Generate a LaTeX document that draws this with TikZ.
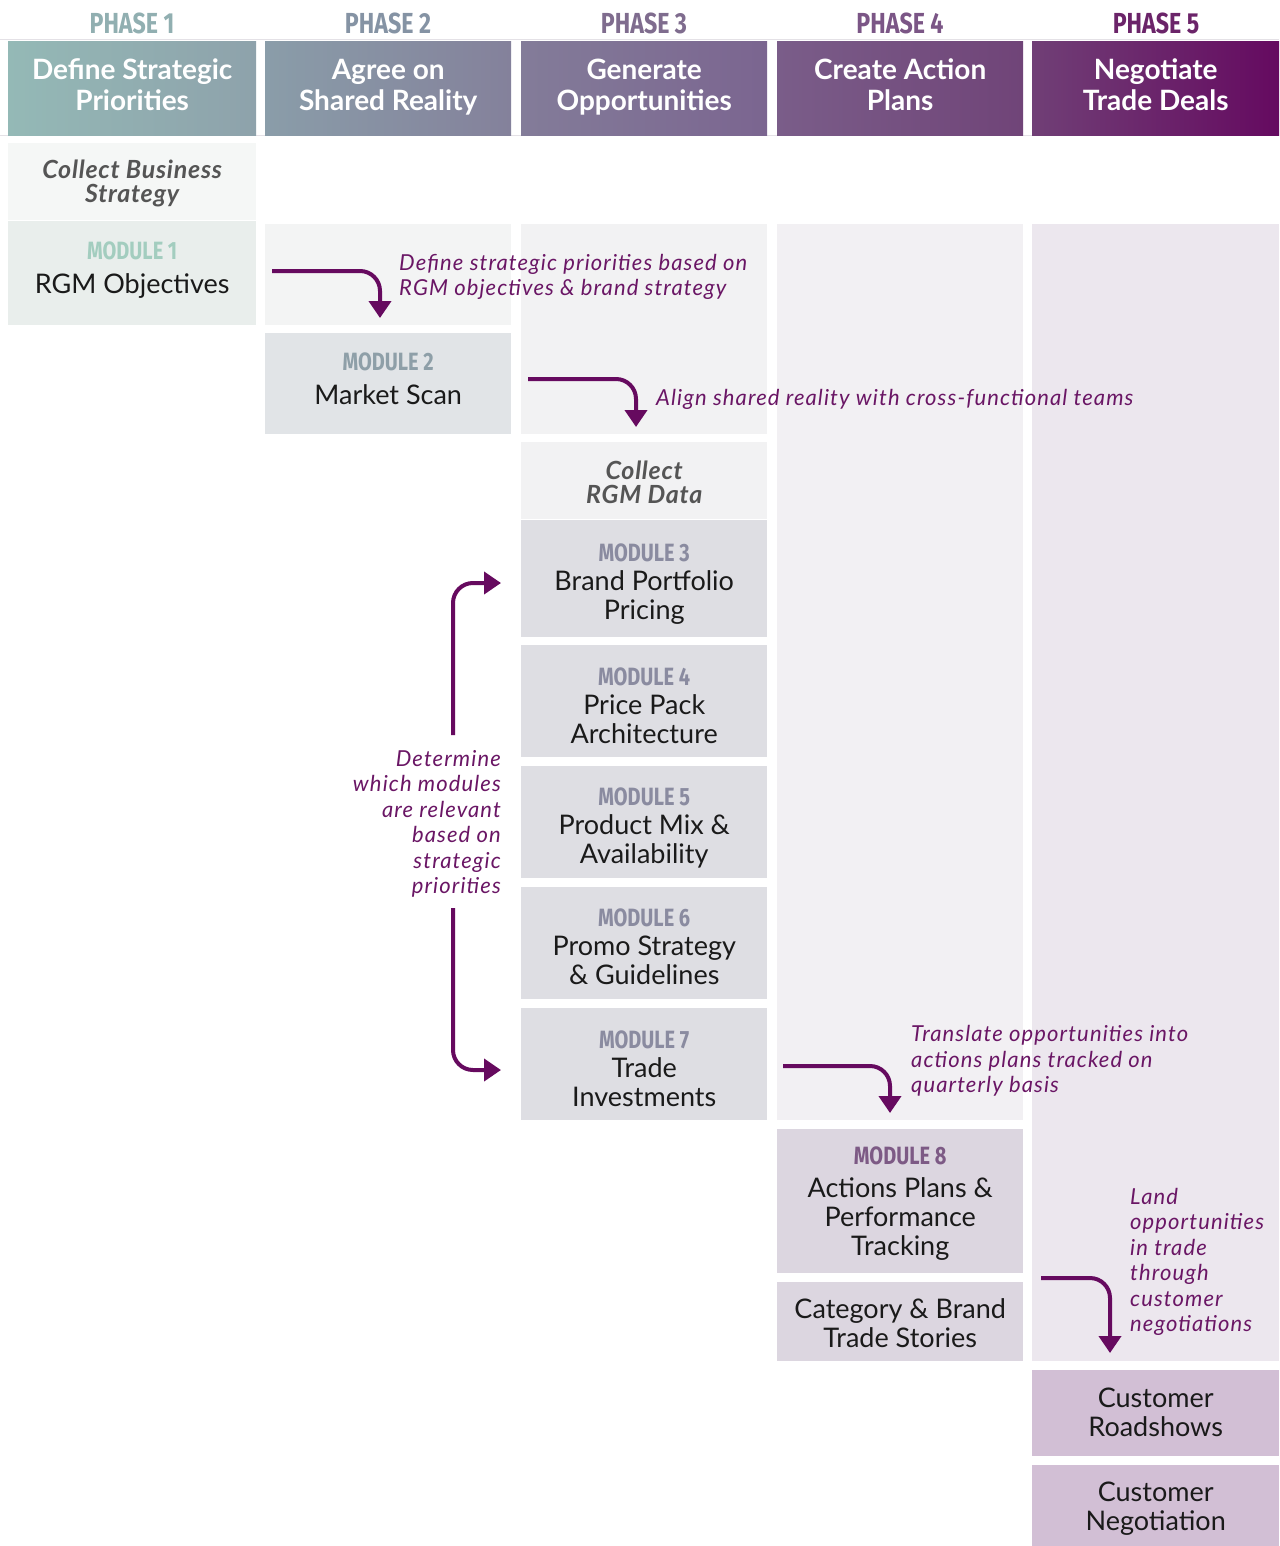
\documentclass[tikz,border=0pt]{standalone}
\usepackage{fontspec}
\setmainfont{Lato}
\newfontfamily\condf[FakeStretch=0.8]{Fira Sans}
\newfontfamily\annf[LetterSpace=5]{Lato}
\newfontfamily\colf[LetterSpace=3]{Lato}
\usetikzlibrary{arrows.meta}
\definecolor{hA}{HTML}{94B9B6}
\definecolor{hB}{HTML}{8EA2AB}
\definecolor{hC}{HTML}{8A9DA9}
\definecolor{hD}{HTML}{84819B}
\definecolor{hE}{HTML}{837C99}
\definecolor{hF}{HTML}{7B6590}
\definecolor{hG}{HTML}{7A5D89}
\definecolor{hH}{HTML}{704478}
\definecolor{hI}{HTML}{703F76}
\definecolor{hJ}{HTML}{650A60}
\definecolor{pA}{HTML}{91AFB1}
\definecolor{pB}{HTML}{8593A4}
\definecolor{pC}{HTML}{7F6C8E}
\definecolor{pD}{HTML}{7B5686}
\definecolor{pE}{HTML}{6B2469}
\definecolor{cbs}{HTML}{F5F7F6}
\definecolor{mA}{HTML}{E9EEEC}
\definecolor{bgB}{HTML}{F3F4F4}
\definecolor{mB}{HTML}{E1E4E7}
\definecolor{bgC}{HTML}{F2F2F3}
\definecolor{mC}{HTML}{DEDEE3}
\definecolor{bgD}{HTML}{F2F0F3}
\definecolor{mD}{HTML}{DCD6E0}
\definecolor{bgE}{HTML}{ECE7EE}
\definecolor{mE}{HTML}{D2BFD5}
\definecolor{labA}{HTML}{A3CDBF}
\definecolor{labB}{HTML}{8E9FA8}
\definecolor{labC}{HTML}{8A8BA0}
\definecolor{labD}{HTML}{7D5A85}
\definecolor{ink}{HTML}{1A1A1A}
\definecolor{gry}{HTML}{555555}
\definecolor{annc}{HTML}{6A1665}
\definecolor{arrc}{HTML}{660A5F}
\definecolor{gridc}{HTML}{E4E1E6}
\begin{document}
\begin{tikzpicture}[x=1pt,y=-1pt,
  box/.style={rectangle, inner sep=0pt, anchor=north west},
  txt/.style={inner sep=0pt, align=center, text=ink, font=\fontsize{27}{29}\selectfont},
  coll/.style={inner sep=0pt, align=center, text=gry, font=\colf\bfseries\itshape\fontsize{25}{24}\selectfont},
  hdr/.style={rectangle, inner sep=0pt, anchor=north west, minimum height=94pt},
  htxt/.style={inner sep=0pt, align=center, text=white, font=\bfseries\fontsize{28}{31}\selectfont},
  phase/.style={inner sep=0pt, font=\condf\bfseries\fontsize{29}{29}\selectfont},
  ann/.style={inner sep=0pt, text=annc, font=\annf\itshape\fontsize{22}{25.5}\selectfont},
  flow/.style={draw=arrc, line width=4pt, rounded corners=20pt,
    -{Triangle[width=22pt,length=17pt]}}]
\fill[white] (0,0) rectangle (1279,1546);
\useasboundingbox (0,0) rectangle (1279,1546);
\newcommand{\lab}[2]{{\condf\bfseries\fontsize{25}{25}\selectfont\color{#1}#2}}
% grid lines
\draw[gridc, line width=1pt] (0,40) -- (1279,40);
\draw[gridc, line width=1pt] (0,136) -- (1279,136);
% phase labels
\node[phase, text=pA] (ph1) at (132,23) {PHASE 1};
\node[phase, text=pB] (ph2) at (388,23) {PHASE 2};
\node[phase, text=pC] (ph3) at (644,23) {PHASE 3};
\node[phase, text=pD] (ph4) at (900,23) {PHASE 4};
\node[phase, text=pE] (ph5) at (1156,23) {PHASE 5};
% headers
\node[hdr, minimum width=248pt, left color=hA, right color=hB] (h1) at (8,41) {};
\node[hdr, minimum width=246pt, left color=hC, right color=hD] (h2) at (265,41) {};
\node[hdr, minimum width=246pt, left color=hE, right color=hF] (h3) at (521,41) {};
\node[hdr, minimum width=246pt, left color=hG, right color=hH] (h4) at (777,41) {};
\node[hdr, minimum width=247pt, left color=hI, right color=hJ] (h5) at (1032,41) {};
\node[htxt] (h1t) at ([yshift=3.5pt]h1.center) {Define Strategic\\Priorities};
\node[htxt] (h2t) at ([yshift=1pt]h2.center) {Agree on\\Shared Reality};
\node[htxt] (h3t) at ([yshift=1pt]h3.center) {Generate\\Opportunities};
\node[htxt] (h4t) at ([yshift=3pt]h4.center) {Create Action\\Plans};
\node[htxt] (h5t) at ([yshift=3pt]h5.center) {Negotiate\\Trade Deals};
% column backgrounds
\node[box, fill=bgB, minimum width=246pt, minimum height=101pt] (bg2) at (265,224) {};
\node[box, fill=bgC, minimum width=246pt, minimum height=210pt] (bg3) at (521,224) {};
\node[box, fill=bgD, minimum width=246pt, minimum height=896pt] (bg4) at (777,224) {};
\node[box, fill=bgE, minimum width=247pt, minimum height=1137pt] (bg5) at (1032,224) {};
% boxes
\node[box, fill=cbs, minimum width=248pt, minimum height=77pt] (cbs) at (8,143) {};
\node[box, fill=mA, minimum width=248pt, minimum height=104pt] (m1) at (8,221) {};
\node[box, fill=mB, minimum width=246pt, minimum height=101pt] (m2) at (265,333) {};
\node[box, fill=bgC, minimum width=246pt, minimum height=77pt] (crd) at (521,442) {};
\node[box, fill=mC, minimum width=246pt, minimum height=117pt] (m3) at (521,520) {};
\node[box, fill=mC, minimum width=246pt, minimum height=112pt] (m4) at (521,645) {};
\node[box, fill=mC, minimum width=246pt, minimum height=112pt] (m5) at (521,766) {};
\node[box, fill=mC, minimum width=246pt, minimum height=112pt] (m6) at (521,887) {};
\node[box, fill=mC, minimum width=246pt, minimum height=112pt] (m7) at (521,1008) {};
\node[box, fill=mD, minimum width=246pt, minimum height=144pt] (m8) at (777,1129) {};
\node[box, fill=mD, minimum width=246pt, minimum height=79pt] (cbt) at (777,1282) {};
\node[box, fill=mE, minimum width=247pt, minimum height=86pt] (cr) at (1032,1370) {};
\node[box, fill=mE, minimum width=247pt, minimum height=81pt] (cn) at (1032,1465) {};
% box texts
\node[coll] (cbst) at ([yshift=-2pt]cbs.center) {Collect Business\\Strategy};
\node[txt] (m1t) at ([yshift=3.5pt]m1.center) {\lab{labA}{MODULE 1}\\[5pt]RGM Objectives};
\node[txt] (m2t) at ([yshift=4.5pt]m2.center) {\lab{labB}{MODULE 2}\\[5pt]Market Scan};
\node[coll] (crdt) at ([yshift=-2pt]crd.center) {Collect\\RGM Data};
\node[txt] (m3t) at ([yshift=-5pt]m3.center) {\lab{labC}{MODULE 3}\\Brand Portfolio\\Pricing};
\node[txt] (m4t) at ([yshift=-5pt]m4.center) {\lab{labC}{MODULE 4}\\Price Pack\\Architecture};
\node[txt] (m5t) at ([yshift=-6pt]m5.center) {\lab{labC}{MODULE 5}\\Product Mix \&\\Availability};
\node[txt] (m6t) at ([yshift=-4pt]m6.center) {\lab{labC}{MODULE 6}\\Promo Strategy\\\& Guidelines};
\node[txt] (m7t) at ([yshift=-5pt]m7.center) {\lab{labC}{MODULE 7}\\Trade\\Investments};
\node[txt] (m8t) at ([yshift=-2pt]m8.center) {\lab{labD}{MODULE 8}\\[4pt]Actions Plans \&\\Performance\\Tracking};
\node[txt] (cbtt) at ([yshift=-1pt]cbt.center) {Category \& Brand\\Trade Stories};
\node[txt] (crt) at ([yshift=1pt]cr.center) {Customer\\Roadshows};
\node[txt] (cnt) at ([yshift=-3pt]cn.center) {Customer\\Negotiation};
% arrows
\coordinate (a1s) at (272,271); \coordinate (a1e) at (380,318);
\draw[flow] (a1s) -| (a1e);
\coordinate (a2s) at (528,379); \coordinate (a2e) at (636,427);
\draw[flow] (a2s) -| (a2e);
\coordinate (b1s) at (453,735); \coordinate (b1e) at (501,583);
\draw[flow] (b1s) |- (b1e);
\coordinate (b2s) at (453,908); \coordinate (b2e) at (501,1070);
\draw[flow] (b2s) |- (b2e);
\coordinate (a3s) at (783,1066); \coordinate (a3e) at (890,1113);
\draw[flow] (a3s) -| (a3e);
\coordinate (a4s) at (1041,1278); \coordinate (a4e) at (1110,1353);
\draw[flow] (a4s) -| (a4e);
% annotations
\node[ann, anchor=west, align=left] (t1) at (399,277) {Define strategic priorities based on\\RGM objectives \& brand strategy};
\node[ann, anchor=west, align=left] (t2) at (656,399) {Align shared reality with cross-functional teams};
\node[ann, anchor=east, align=right] (t3) at (501,824) {Determine\\which modules\\are relevant\\based on\\strategic\\priorities};
\node[ann, anchor=west, align=left] (t4) at (911,1061) {Translate opportunities into\\actions plans tracked on\\quarterly basis};
\node[ann, anchor=west, align=left] (t5) at (1130,1262) {Land\\opportunities\\in trade\\through\\customer\\negotiations};
\end{tikzpicture}
\end{document}
